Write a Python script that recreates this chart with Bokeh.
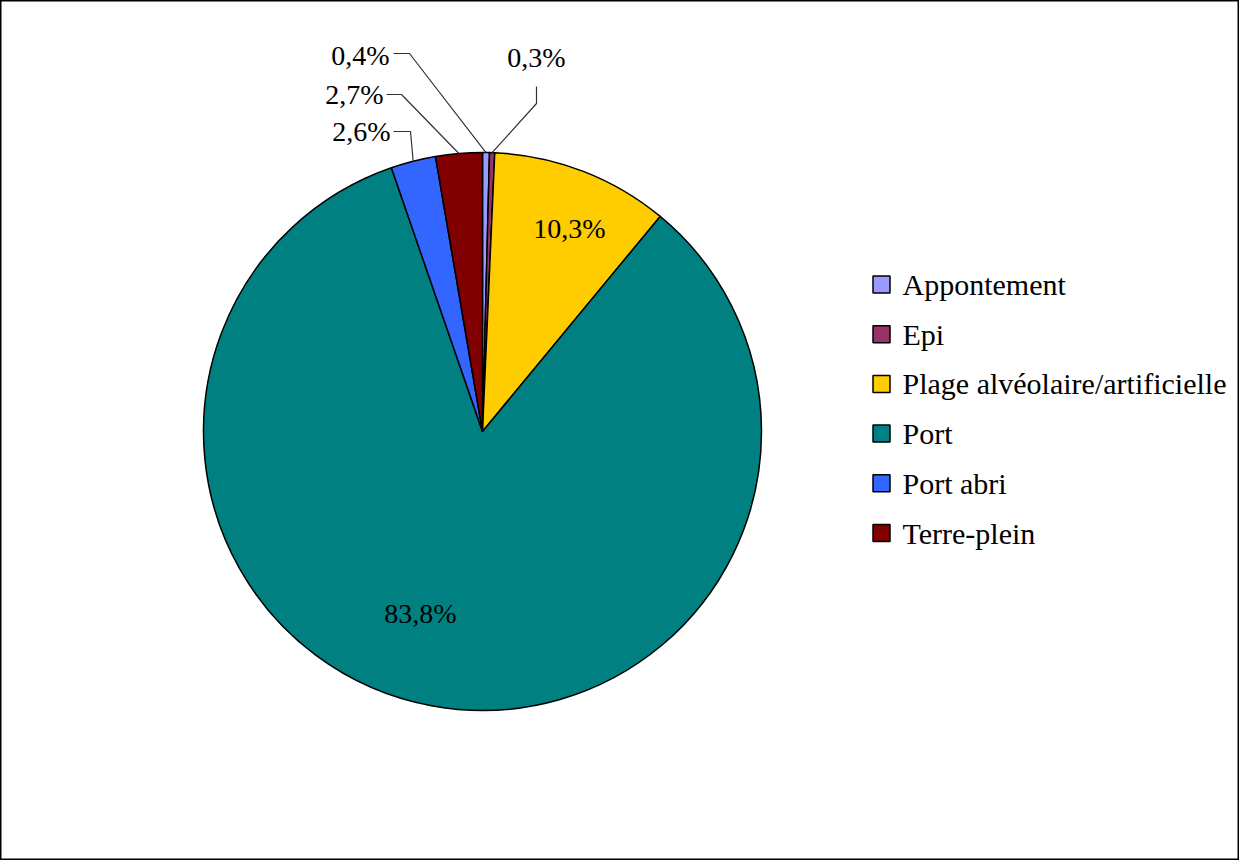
import math
from bokeh.plotting import figure
from bokeh.models import Range1d, ColumnDataSource
from bokeh.core.properties import value
from bokeh.embed import file_html
from bokeh.resources import INLINE

# ---- data ----
categories = ["Appontement", "Epi", "Plage alvéolaire/artificielle", "Port", "Port abri", "Terre-plein"]
values = [0.4, 0.3, 10.3, 83.8, 2.6, 2.7]
pct_labels = ["0,4%", "0,3%", "10,3%", "83,8%", "2,6%", "2,7%"]
colors = ["#9999FF", "#993366", "#FFCC00", "#008080", "#3366FF", "#800000"]

# ---- layout (page pixel coordinates) ----
W, H = 1239, 860
CX, CY, R = 490, 439, 279
FONT = value("Liberation Serif")
FS_LAB = "28px"
FS_LEG = "30px"

def dx(px):
    return px - 8

def dy(py):
    return 868 - py

# label layout per category: ("in", x, y) or ("out", text_x, text_y, align, elbow points)
label_layout = {
    "Appontement": ("out", 397, 63, "right", [(401, 61), (417, 61)]),
    "Epi": ("out", 544, 65, "center", [(544, 94), (544, 111)]),
    "Plage alvéolaire/artificielle": ("in", 577, 236),
    "Port": ("in", 428, 621),
    "Port abri": ("out", 398, 139, "right", [(401, 139), (418, 139), (419, 150)]),
    "Terre-plein": ("out", 391, 102, "right", [(394, 102), (409, 102)]),
}

p = figure(width=W, height=H, output_backend="svg", toolbar_location=None,
           x_range=Range1d(0, W), y_range=Range1d(0, H), min_border=0)
p.axis.visible = False
p.grid.visible = False
p.outline_line_color = "black"
p.outline_line_width = 2
p.background_fill_color = "white"
p.border_fill_color = "white"

total = sum(values)
starts, ends, mids = [], [], []
cum = 0.0
for v in values:
    a0 = math.pi / 2 - 2 * math.pi * cum / total
    cum += v
    a1 = math.pi / 2 - 2 * math.pi * cum / total
    starts.append(a0)
    ends.append(a1)
    mids.append((a0 + a1) / 2)

src = ColumnDataSource(dict(x=[dx(CX)] * len(values), y=[dy(CY)] * len(values),
                            start=starts, end=ends, color=colors))
p.wedge(x="x", y="y", radius=R, radius_units="screen", start_angle="start", end_angle="end",
        direction="clock", fill_color="color", line_color="black", line_width=1.5, source=src)

# labels
lx, ly, lt, la = [], [], [], []
lead_xs, lead_ys = [], []
for cat, lab, m in zip(categories, pct_labels, mids):
    lay = label_layout[cat]
    if lay[0] == "in":
        lx.append(dx(lay[1])); ly.append(dy(lay[2])); lt.append(lab); la.append("center")
    else:
        _, tx, ty, al, pts = lay
        lx.append(dx(tx)); ly.append(dy(ty)); lt.append(lab); la.append(al)
        ex = CX + R * math.cos(m)
        ey = CY - R * math.sin(m)
        xs = [dx(px) for px, _ in pts] + [dx(ex)]
        ys = [dy(py) for _, py in pts] + [dy(ey)]
        lead_xs.append(xs); lead_ys.append(ys)

p.multi_line(xs=lead_xs, ys=lead_ys, line_color="#333333", line_width=1.2)
p.text(x=lx, y=ly, text=lt, text_align=la, text_baseline="middle",
       text_font=FONT, text_font_size=FS_LAB, text_color="black")

# legend
LEG_SW_X, LEG_TX, LEG_Y0, LEG_STEP = 889, 910, 292, 49.7
leg_y = [dy(LEG_Y0 + i * LEG_STEP) for i in range(len(categories))]
p.scatter(x=[dx(LEG_SW_X)] * len(categories), y=leg_y, marker="square", size=17,
          fill_color=colors, line_color="black", line_width=1.5)
p.text(x=[dx(LEG_TX)] * len(categories), y=leg_y, text=categories, text_align="left",
       text_baseline="middle", text_font=FONT, text_font_size=FS_LEG, text_color="black")

open("out.html", "w").write(file_html(p, INLINE))
